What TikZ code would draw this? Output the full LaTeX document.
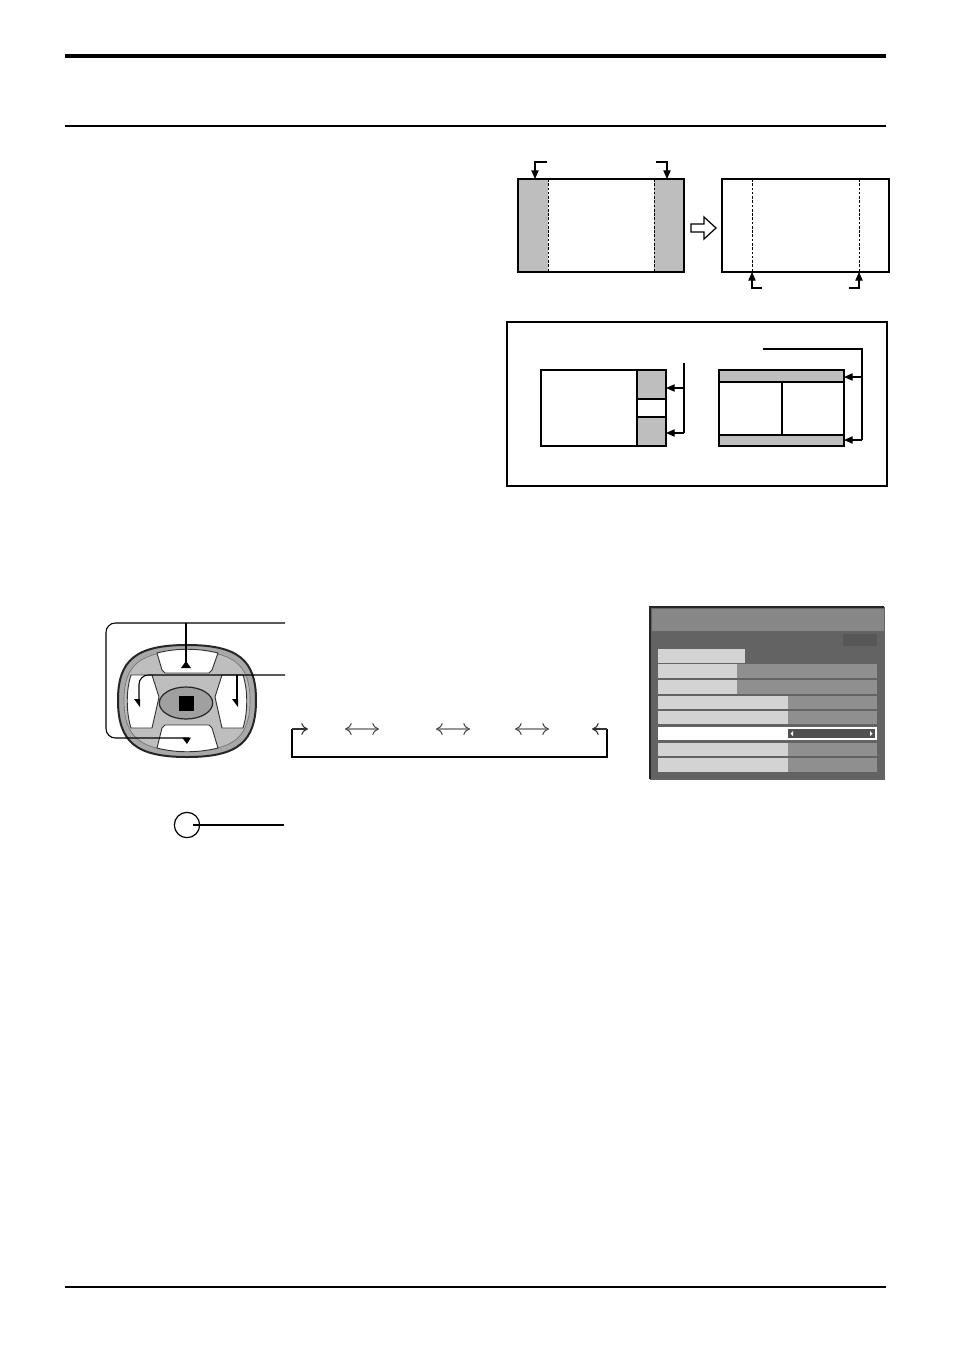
\documentclass[tikz,border=0pt]{standalone}
\usetikzlibrary{arrows.meta}
\definecolor{panelgray}{RGB}{190,190,190}
\definecolor{padgray}{RGB}{168,168,168}
\definecolor{padring}{RGB}{190,190,190}
\definecolor{ellgray}{RGB}{160,160,160}
\definecolor{titlegray}{RGB}{135,135,135}
\definecolor{bodygray}{RGB}{99,99,99}
\definecolor{boxgray}{RGB}{87,87,87}
\definecolor{rowlight}{RGB}{211,211,211}
\definecolor{rowmid}{RGB}{143,143,143}
\definecolor{bardark}{RGB}{80,80,80}
\definecolor{flowgray}{RGB}{150,150,150}
\begin{document}
\begin{tikzpicture}[x=0.75pt,y=-0.75pt,
  line/.style={line width=0.8pt,draw=black},
  tip/.style={line width=0.8pt,-{Triangle[length=6.5pt,width=5.5pt]}},
  dashline/.style={line width=0.6pt,dash pattern=on 2pt off 1.2pt},
  bluebutton/.style={fill=white,draw=black!80,line width=0.7pt},
  loopline/.style={line width=0.8pt,draw=black,rounded corners=7pt},
  flowarrow/.style={line width=1.3pt,draw=flowgray,{To[length=5pt,width=9pt,line width=0.8pt,color=black!70]}-{To[length=5pt,width=9pt,line width=0.8pt,color=black!70]}},
  flowone/.style={line width=0.8pt,draw=black!80,-{To[length=5pt,width=9pt]}},
  row/.style={fill=rowlight}, rowm/.style={fill=rowmid}]
\useasboundingbox (0,0) rectangle (954,1350);
\fill[white] (0,0) rectangle (954,1350);

% page rules
\draw[line width=2.4pt] (65,56) -- (886,56);
\draw[line width=0.9pt] (65,126) -- (886,126);
\draw[line width=1.8pt] (65,1287) -- (886,1287);

% ---- top right: side panels
\fill[panelgray] (518,179) rectangle (548,272);
\fill[panelgray] (654,179) rectangle (684,272);
\draw[dashline] (548,179) -- (548,272);
\draw[dashline] (654,179) -- (654,272);
\draw[line] (518,179) rectangle (684,272);
\coordinate (a1) at (547,162); \coordinate (a1t) at (535,179);
\coordinate (a2) at (656,162); \coordinate (a2t) at (667,179);
\draw[tip] (a1) -| (a1t);
\draw[tip] (a2) -| (a2t);
% hollow arrow
\draw[line width=0.9pt,fill=white,line join=miter] (691,224) -- (704,224) -- (704,217) -- (716,228) -- (704,239) -- (704,232) -- (691,232) -- cycle;
\draw[line] (722,179) rectangle (889,272);
\draw[dashline] (752,179) -- (752,272);
\draw[dashline] (859,179) -- (859,272);
\coordinate (b1) at (762,288); \coordinate (b1t) at (752,272);
\coordinate (b2) at (849,288); \coordinate (b2t) at (859,272);
\draw[tip] (b1) -| (b1t);
\draw[tip] (b2) -| (b2t);

% ---- framed box
\draw[line width=1.3pt] (507,322) rectangle (887,486);
\fill[panelgray] (637,370) rectangle (666,399);
\fill[panelgray] (637,417) rectangle (666,446);
\draw[line] (541,370) rectangle (666,446);
\draw[line] (637,370) -- (637,446);
\draw[line] (637,399) -- (666,399);
\draw[line] (637,417) -- (666,417);
\coordinate (c0) at (684,363); \coordinate (c1) at (684,433);
\draw[line] (c0) -- (c1);
\draw[tip] (684,388) -- (666,388);
\draw[tip] (684,433) -- (666,433);

\fill[panelgray] (719,370) rectangle (844,382);
\fill[panelgray] (719,435) rectangle (844,446);
\draw[line] (719,370) rectangle (844,446);
\draw[line] (719,382) -- (844,382);
\draw[line] (719,435) -- (844,435);
\draw[line] (782,382) -- (782,435);
\coordinate (d0) at (763,349); \coordinate (d1) at (862,440);
\draw[line] (d0) -| (d1);
\draw[tip] (862,377) -- (844,377);
\draw[tip] (862,440) -- (844,440);

% ---- remote pad
\draw[fill=padgray,line width=1.5pt,draw=black!85]
  (187,645) .. controls (238,645) and (256,660) .. (256,700)
  .. controls (256,742) and (238,757) .. (187,757)
  .. controls (136,757) and (118,742) .. (118,700)
  .. controls (118,660) and (136,645) .. cycle;
\draw[draw=black!55,line width=0.5pt,fill=padring]
  (187,651) .. controls (234,651) and (250,665) .. (250,700)
  .. controls (250,737) and (234,751) .. (187,751)
  .. controls (140,751) and (124,737) .. (124,700)
  .. controls (124,665) and (140,651) .. cycle;
% buttons
\draw[bluebutton] (157,653) .. controls (176,648) and (198,648) .. (218,653) -- (212,670) -- (209,673) -- (165,673) -- (162,670) -- cycle;
\draw[bluebutton] (165,725) -- (209,725) -- (212,728) -- (218,748) .. controls (198,753) and (176,753) .. (157,748) -- (162,728) -- cycle;
\draw[bluebutton] (131,675) -- (152,675) -- (159,697) -- (152,728) -- (131,728) .. controls (126,712) and (126,690) .. cycle;
\draw[bluebutton] (243,675) -- (222,675) -- (215,697) -- (222,728) -- (243,728) .. controls (248,712) and (248,690) .. cycle;
\draw[fill=ellgray,draw=black!85,line width=0.9pt] (186,703) ellipse [x radius=20pt,y radius=12pt];
\fill[black] (179,696) rectangle (194,711);
% loop lines
\coordinate (p1) at (285,623);
\coordinate (p2) at (285,675);
\draw[loopline] (p1) -- (106,623) -- (106,738) -- (189,738);
\fill (182,737.5) -- (191,737.5) -- (187,744) -- cycle;
\draw[line] (186,623) -- (186,664);
\fill (181,668) -- (191,668) -- (186,661) -- cycle;
\draw[loopline] (p2) -- (139,675) -- (139,700);
\fill (134,699) -- (140,699) -- (140,707) -- cycle;
\draw[line] (237,675) -- (237,700);
\fill (232,699) -- (238,699) -- (238,707) -- cycle;

% ---- flow of arrows
\coordinate (f0) at (292,729); \coordinate (f1) at (607,729);
\draw[line] (f0) -- (292,757) -- (607,757) -- (f1);
\draw[flowone] (f0) -- (308,729);
\draw[flowone] (f1) -- (592,729);
\draw[flowarrow] (345,729) -- (379,729);
\draw[flowarrow] (436,729) -- (470,729);
\draw[flowarrow] (515,729) -- (549,729);

% ---- button circle
\draw[line width=0.9pt] (187,825) circle [radius=9.5pt];
\draw[line] (193,825) -- (284,825);

% ---- on-screen menu
\fill[bodygray] (650,607) rectangle (884,779);
\fill[titlegray] (652,609) rectangle (884,631);
\draw[line width=1pt,draw=black!85] (650,779) -- (650,607) -- (884,607);
\draw[line width=0.5pt,draw=black!60] (884,607) -- (884,779) -- (650,779);
\fill[boxgray] (843,634) rectangle (877,646);
\fill[row] (658,649) rectangle (745,663);
\fill[row] (658,664) rectangle (737,678); \fill[rowm] (737,664) rectangle (877,678);
\fill[row] (658,680) rectangle (737,694); \fill[rowm] (737,680) rectangle (877,694);
\fill[row] (658,696) rectangle (788,709); \fill[rowm] (788,696) rectangle (877,709);
\fill[row] (658,711) rectangle (788,724); \fill[rowm] (788,711) rectangle (877,724);
\fill[white] (658,727) rectangle (877,740);
\fill[bardark] (788,729) rectangle (875,738);
\fill[white] (790.5,733.5) -- (793,731) -- (793,736) -- cycle;
\fill[white] (872.5,733.5) -- (870,731) -- (870,736) -- cycle;
\fill[row] (658,743) rectangle (788,756); \fill[rowm] (788,743) rectangle (877,756);
\fill[row] (658,758) rectangle (788,772); \fill[rowm] (788,758) rectangle (877,772);
\end{tikzpicture}
\end{document}
